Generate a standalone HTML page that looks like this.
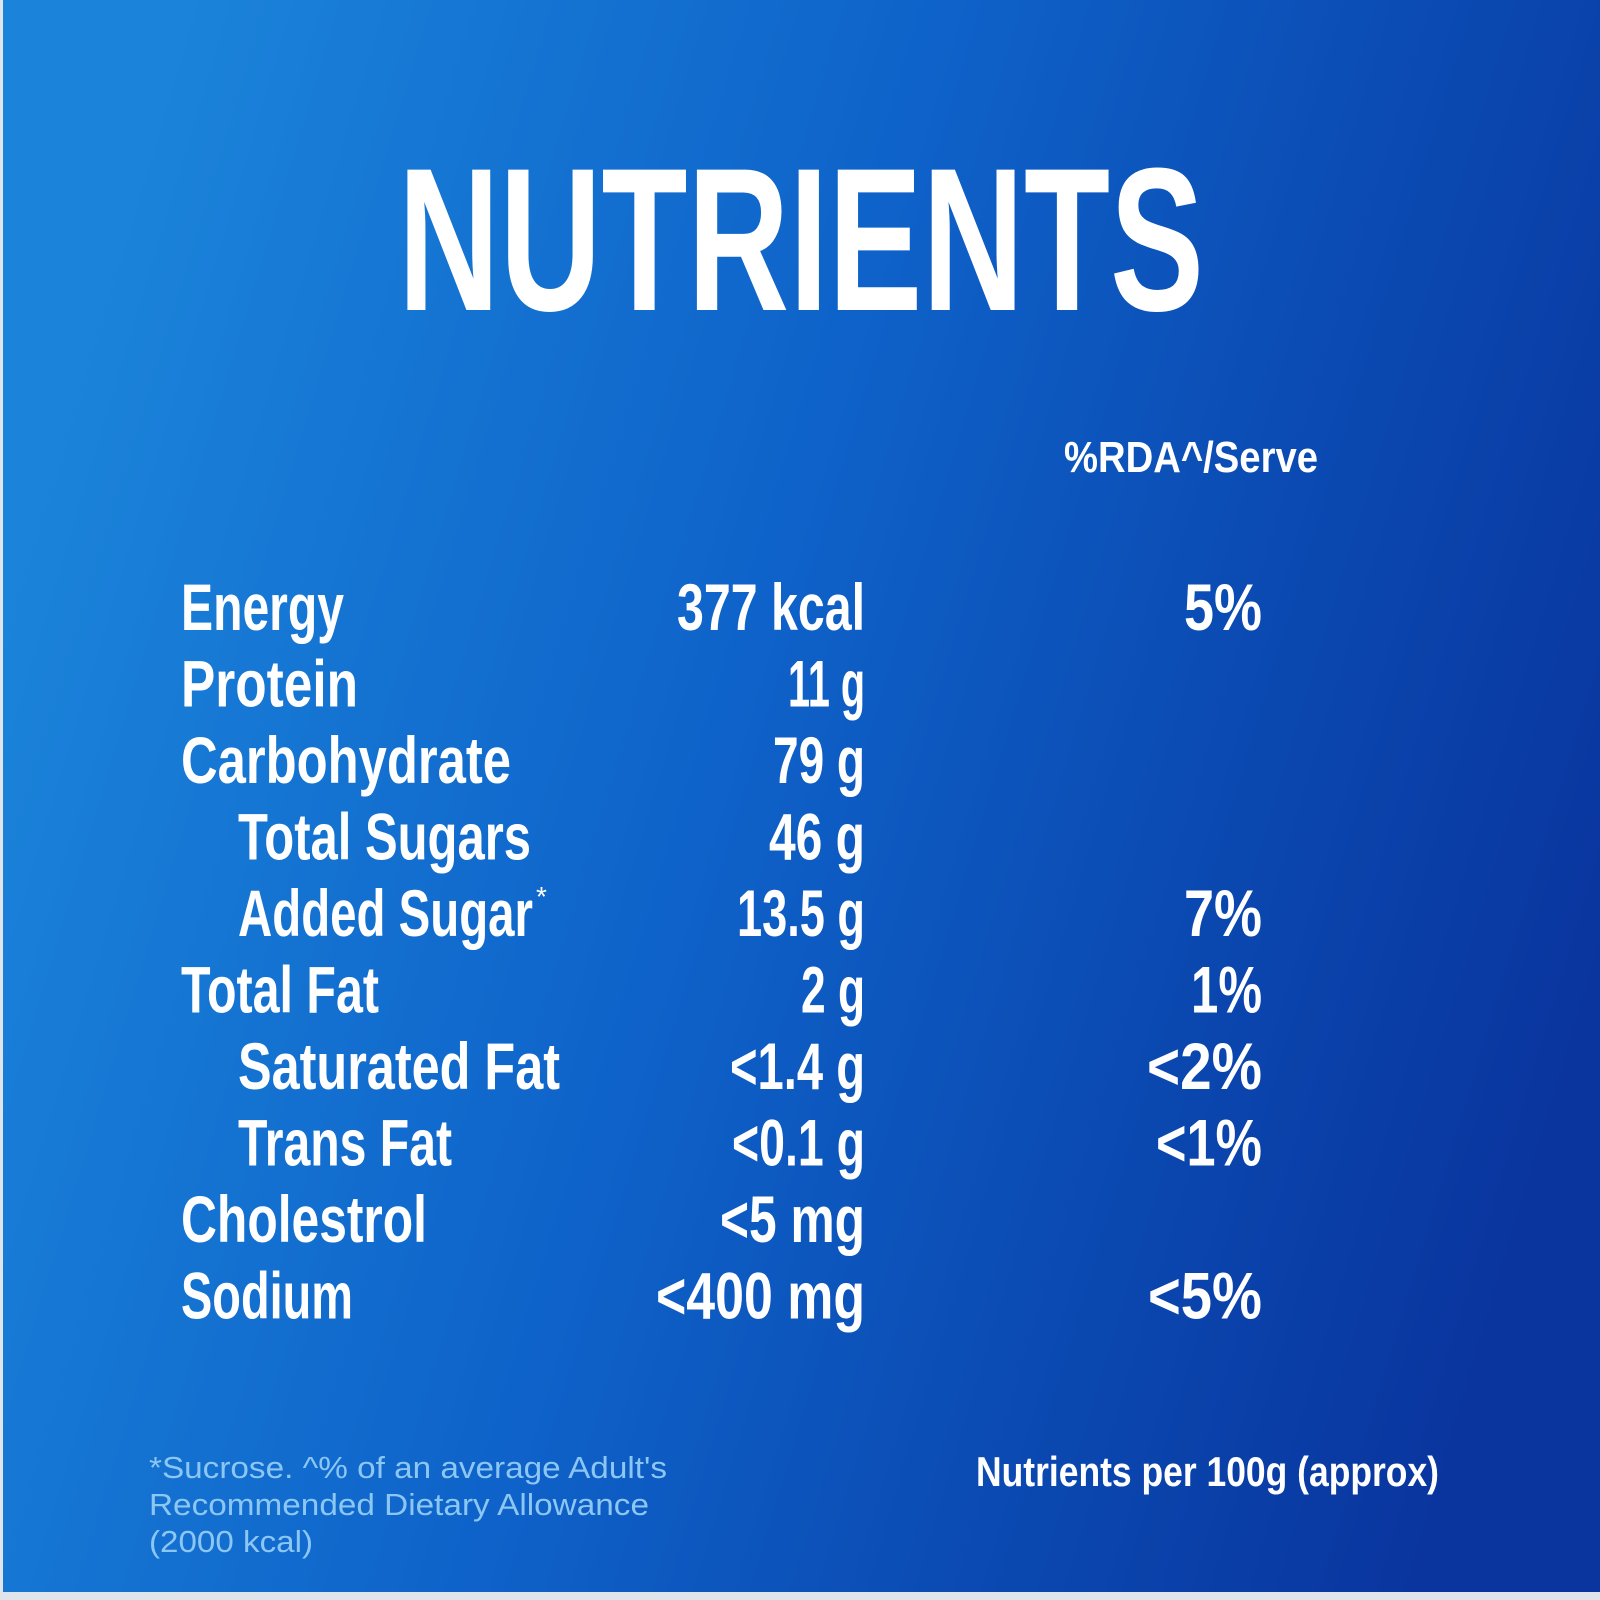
<!DOCTYPE html>
<html><head><meta charset="utf-8"><style>
html,body{margin:0;padding:0;background:#dfe5ea;}
svg{display:block}
</style></head><body>
<svg width="1600" height="1600" viewBox="0 0 1600 1600" xmlns="http://www.w3.org/2000/svg">
<defs>
<linearGradient id="bg" x1="0" y1="0.35" x2="1" y2="0.65">
<stop offset="0" stop-color="#1b84da"/>
<stop offset="0.45" stop-color="#0e62c9"/>
<stop offset="0.78" stop-color="#0a46ae"/>
<stop offset="1" stop-color="#0a349e"/>
</linearGradient>
</defs>
<rect width="1600" height="1600" fill="#dfe5ea"/>
<rect x="3" y="0" width="1597" height="1592" fill="url(#bg)"/>
<g fill="#ffffff" font-family="Liberation Sans, sans-serif" font-weight="bold">
<text x="398" y="310" font-size="204" textLength="806" lengthAdjust="spacingAndGlyphs">NUTRIENTS</text>
<text x="1064" y="472" font-size="44" textLength="254" lengthAdjust="spacingAndGlyphs">%RDA^/Serve</text>

<g font-size="66">
<text x="181" y="630" textLength="163" lengthAdjust="spacingAndGlyphs">Energy</text>
<text x="181" y="706.5" textLength="177" lengthAdjust="spacingAndGlyphs">Protein</text>
<text x="181" y="783" textLength="330" lengthAdjust="spacingAndGlyphs">Carbohydrate</text>
<text x="238" y="859.5" textLength="293" lengthAdjust="spacingAndGlyphs">Total Sugars</text>
<text x="238" y="936" textLength="295" lengthAdjust="spacingAndGlyphs">Added Sugar</text>
<text x="536" y="906" font-size="28" font-weight="normal">*</text>
<text x="181" y="1012.5" textLength="198" lengthAdjust="spacingAndGlyphs">Total Fat</text>
<text x="238" y="1089" textLength="322" lengthAdjust="spacingAndGlyphs">Saturated Fat</text>
<text x="238" y="1165.5" textLength="214" lengthAdjust="spacingAndGlyphs">Trans Fat</text>
<text x="181" y="1242" textLength="246" lengthAdjust="spacingAndGlyphs">Cholestrol</text>
<text x="181" y="1318.5" textLength="172" lengthAdjust="spacingAndGlyphs">Sodium</text>

<text x="677" y="630" textLength="188" lengthAdjust="spacingAndGlyphs">377 kcal</text>
<text x="788" y="706.5" textLength="77" lengthAdjust="spacingAndGlyphs">11 g</text>
<text x="773" y="783" textLength="92" lengthAdjust="spacingAndGlyphs">79 g</text>
<text x="769" y="859.5" textLength="96" lengthAdjust="spacingAndGlyphs">46 g</text>
<text x="737" y="936" textLength="128" lengthAdjust="spacingAndGlyphs">13.5 g</text>
<text x="801" y="1012.5" textLength="64" lengthAdjust="spacingAndGlyphs">2 g</text>
<text x="730" y="1089" textLength="135" lengthAdjust="spacingAndGlyphs">&lt;1.4 g</text>
<text x="732" y="1165.5" textLength="133" lengthAdjust="spacingAndGlyphs">&lt;0.1 g</text>
<text x="720" y="1242" textLength="145" lengthAdjust="spacingAndGlyphs">&lt;5 mg</text>
<text x="656" y="1318.5" textLength="209" lengthAdjust="spacingAndGlyphs">&lt;400 mg</text>

<text x="1184" y="630" textLength="78" lengthAdjust="spacingAndGlyphs">5%</text>
<text x="1184" y="936" textLength="78" lengthAdjust="spacingAndGlyphs">7%</text>
<text x="1191" y="1012.5" textLength="71" lengthAdjust="spacingAndGlyphs">1%</text>
<text x="1147" y="1089" textLength="115" lengthAdjust="spacingAndGlyphs">&lt;2%</text>
<text x="1156" y="1165.5" textLength="106" lengthAdjust="spacingAndGlyphs">&lt;1%</text>
<text x="1148" y="1318.5" textLength="114" lengthAdjust="spacingAndGlyphs">&lt;5%</text>
</g>

<text x="976" y="1486" font-size="42" textLength="463" lengthAdjust="spacingAndGlyphs">Nutrients per 100g (approx)</text>
</g>
<g fill="#8cc6f3" font-family="Liberation Sans, sans-serif" font-size="31">
<text x="149" y="1478" textLength="518" lengthAdjust="spacingAndGlyphs">*Sucrose. ^% of an average Adult's</text>
<text x="149" y="1515" textLength="500" lengthAdjust="spacingAndGlyphs">Recommended Dietary Allowance</text>
<text x="149" y="1552" textLength="164" lengthAdjust="spacingAndGlyphs">(2000 kcal)</text>
</g>
</svg>
</body></html>
